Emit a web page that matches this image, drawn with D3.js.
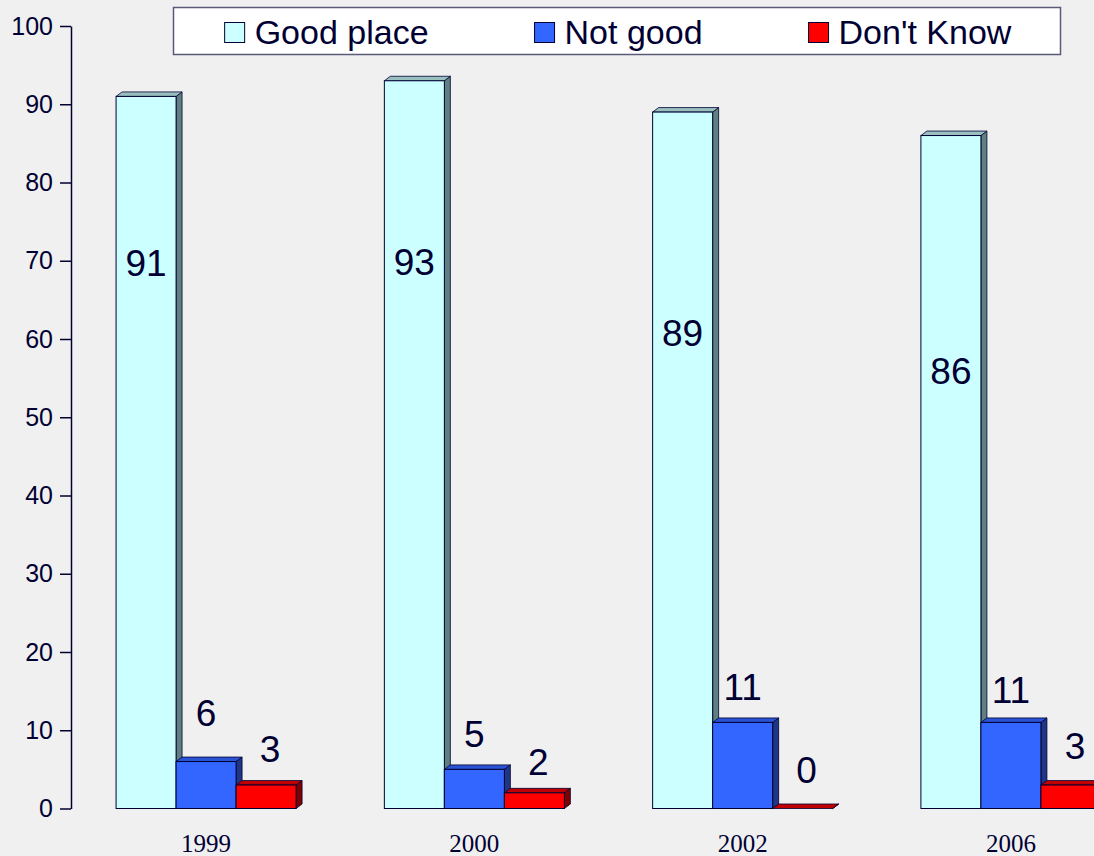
<!DOCTYPE html>
<html>
<head>
<meta charset="utf-8">
<script src="https://cdn.jsdelivr.net/npm/d3@7"></script>
<style>
body { margin: 0; background: #f0f0f0; }
svg { display: block; }
</style>
</head>
<body>
<svg id="chart" width="1094" height="856"></svg>
<script>
// Is it a good place to live? survey results by year

var years = ["1999", "2000", "2002", "2006"];
var seriesNames = ["Good place", "Not good", "Don't Know"];
var goodPlace = [91, 93, 89, 86];
var notGood = [6, 5, 11, 11];
var dontKnow = [3, 2, 0, 3];
// label baselines, in axis units
var goodLabelAt = [68.1, 68.2, 59.1, 54.2];
var notGoodLabelAt = [10.6, 7.8, 13.9, 13.5];
var dontKnowLabelAt = [5.9, 4.3, 3.2, 6.3];
var yTicks = [0, 10, 20, 30, 40, 50, 60, 70, 80, 90, 100];

var ink = "#000033";
var colors = [
	{front: "#ccffff", side: "#5f8080", top: "#99bfbf"},
	{front: "#3366ff", side: "#1f3585", top: "#2a52d4"},
	{front: "#ff0000", side: "#800000", top: "#c00000"}
];
var depthX = 6, depthY = 4.5;

var series = [goodPlace, notGood, dontKnow];
var labelAt = [goodLabelAt, notGoodLabelAt, dontKnowLabelAt];

var svg = d3.select("#chart");

var y = d3.scaleLinear().domain([0, 100]).range([808.5, 26]);
var x0 = d3.scaleBand().domain(years).range([71, 1146])
	.paddingInner(0.329).paddingOuter(0.168);
var x1 = d3.scaleBand().domain(seriesNames).range([0, x0.bandwidth()]);

// y axis
var yAxis = svg.append("g")
	.attr("transform", "translate(71,0)")
	.call(d3.axisLeft(y).tickValues(yTicks).tickSize(11).tickSizeOuter(0).tickPadding(7));
yAxis.select(".domain").attr("stroke", ink).attr("stroke-width", 1.5);
yAxis.selectAll(".tick line").attr("stroke", ink).attr("stroke-width", 1.5);
yAxis.selectAll(".tick text")
	.attr("fill", ink)
	.style("font-family", "'Liberation Sans', Arial, sans-serif")
	.style("font-size", "25px");

// bars
var rows = [];
years.forEach((yr, i) => {
	seriesNames.forEach((s, j) => {
		rows.push({year: yr, name: s, si: j, value: series[j][i], labelAt: labelAt[j][i]});
	});
});

var bars = svg.append("g").selectAll("g")
	.data(rows)
	.enter().append("g");

bars.each(function(d) {
	var g = d3.select(this);
	var xl = x0(d.year) + x1(d.name);
	var w = x1.bandwidth();
	var yt = y(d.value), yb = y(0);
	var c = colors[d.si];
	g.append("polygon")
		.attr("points", [[xl + w, yt], [xl + w + depthX, yt - depthY], [xl + w + depthX, yb - depthY], [xl + w, yb]].join(" "))
		.attr("fill", c.side).attr("stroke", ink).attr("stroke-width", 0.8).attr("stroke-linejoin", "round");
	g.append("polygon")
		.attr("points", [[xl, yt], [xl + depthX, yt - depthY], [xl + w + depthX, yt - depthY], [xl + w, yt]].join(" "))
		.attr("fill", c.top).attr("stroke", ink).attr("stroke-width", 0.8).attr("stroke-linejoin", "round");
	g.append("rect")
		.attr("x", xl).attr("y", yt)
		.attr("width", w).attr("height", yb - yt)
		.attr("fill", c.front).attr("stroke", ink).attr("stroke-width", 1);
});

// value labels
svg.append("g").selectAll("text")
	.data(rows)
	.enter().append("text")
	.attr("x", d => x0(d.year) + x1(d.name) + x1.bandwidth() / 2 + (d.si == 2 ? 4 : 0))
	.attr("y", d => y(d.labelAt))
	.attr("text-anchor", "middle")
	.attr("fill", ink)
	.style("font-family", "'Liberation Sans', Arial, sans-serif")
	.style("font-size", "37px")
	.text(d => d.value);

// year labels
svg.append("g").selectAll("text")
	.data(years)
	.enter().append("text")
	.attr("x", d => x0(d) + x0.bandwidth() / 2)
	.attr("y", 852)
	.attr("text-anchor", "middle")
	.attr("fill", ink)
	.style("font-family", "'Liberation Serif', 'Times New Roman', serif")
	.style("font-size", "25px")
	.text(d => d);

// legend
var legend = svg.append("g");
legend.append("rect")
	.attr("x", 173.5).attr("y", 7.5)
	.attr("width", 887).attr("height", 47)
	.attr("fill", "white").attr("stroke", "#5a5a78").attr("stroke-width", 1.5);

var items = legend.selectAll("g.item")
	.data(seriesNames)
	.enter().append("g").attr("class", "item");
items.append("rect")
	.attr("x", 0).attr("y", 22.5)
	.attr("width", 20).attr("height", 20)
	.attr("fill", (d, i) => colors[i].front)
	.attr("stroke", ink).attr("stroke-width", 1);
items.append("text")
	.attr("x", 30).attr("y", 43.5)
	.attr("fill", ink)
	.style("font-family", "'Liberation Sans', Arial, sans-serif")
	.style("font-size", "34px")
	.text(d => d);

var gap = 106;
var widths = [];
items.each(function() { widths.push(30 + d3.select(this).select("text").node().getComputedTextLength()); });
var total = d3.sum(widths) + gap * (widths.length - 1);
var cursor = 618 - total / 2;
items.attr("transform", (d, i) => {
	var t = "translate(" + cursor + ",0)";
	cursor += widths[i] + gap;
	return t;
});
</script>
</body>
</html>
